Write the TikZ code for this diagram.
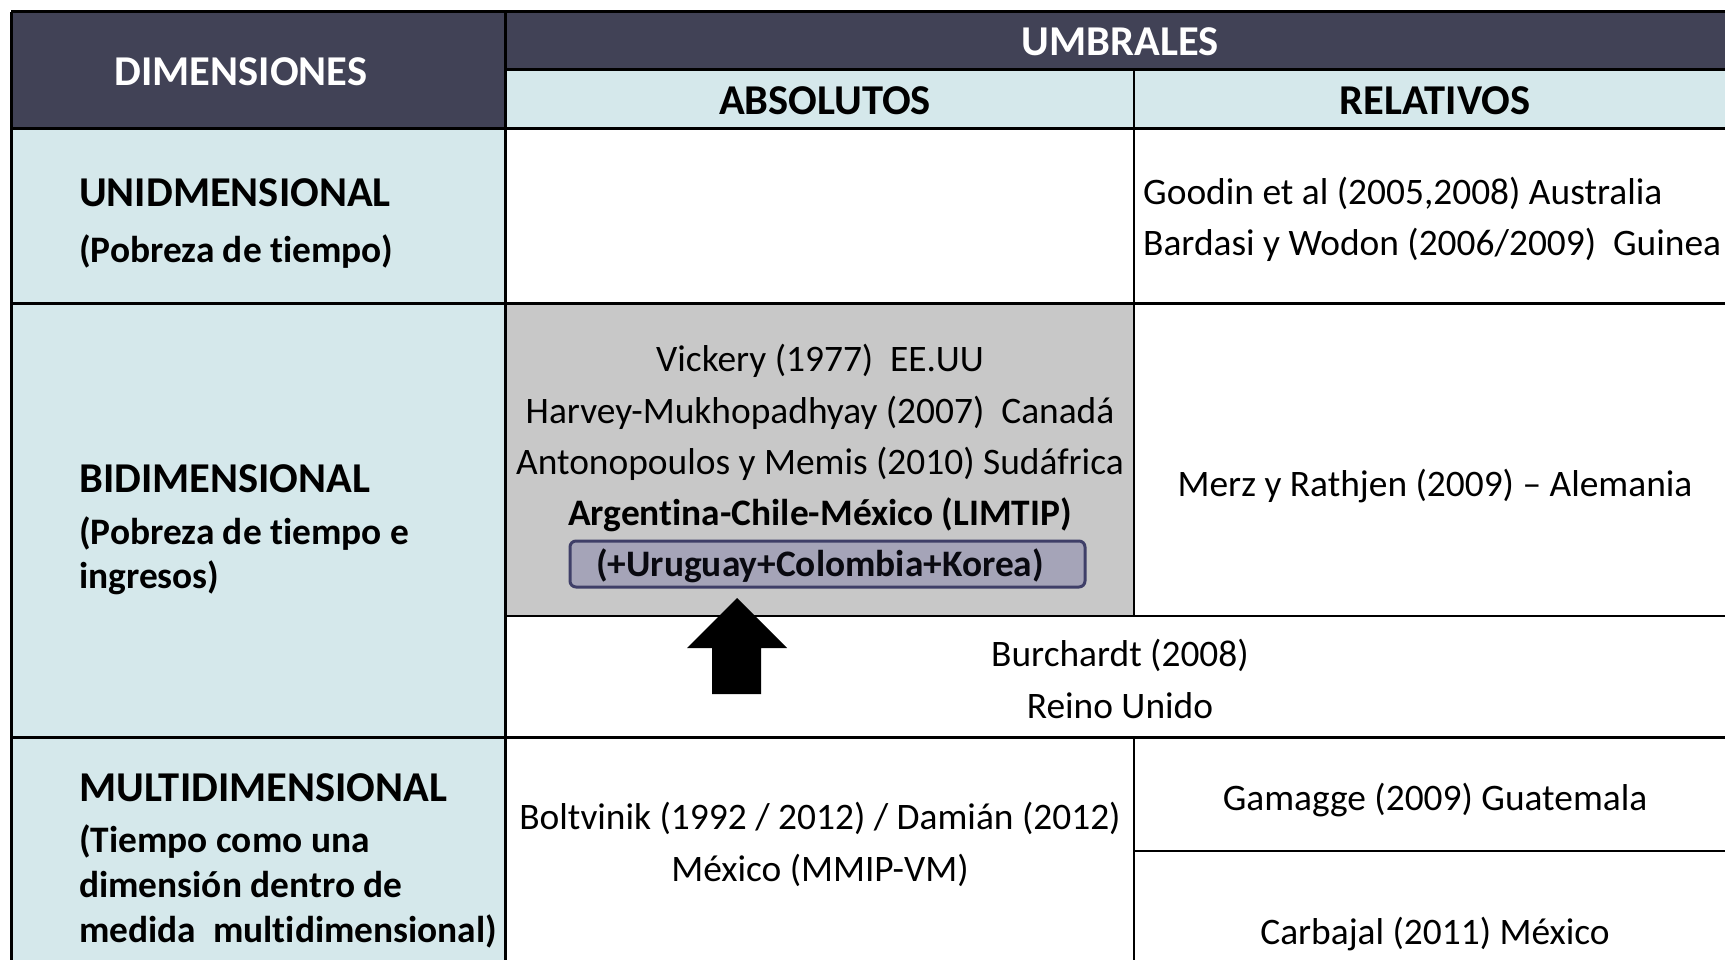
\documentclass[tikz,border=0pt]{standalone}
\usepackage{fontspec}
\setmainfont{Carlito}[Ligatures={NoCommon,NoContextual}]
\definecolor{hdr}{RGB}{65,66,86}
\definecolor{lite}{RGB}{213,232,235}
\definecolor{greycell}{RGB}{200,200,200}
\definecolor{boxfill}{RGB}{165,164,184}
\definecolor{boxline}{RGB}{63,63,104}
\begin{document}
\begin{tikzpicture}[x=1pt,y=-1pt,
  body/.style={font=\fontsize{37.4}{44}\selectfont, inner sep=0pt, anchor=base},
  bodyw/.style={font=\fontsize{37.4}{44}\selectfont, inner sep=0pt, anchor=base west},
  bodyb/.style={font=\fontsize{37.4}{44}\selectfont\bfseries, inner sep=0pt, anchor=base},
  hd/.style={font=\fontsize{42.5}{50}\selectfont\bfseries, inner sep=0pt, anchor=base},
  ttl/.style={font=\fontsize{42.5}{50}\selectfont\bfseries, inner sep=0pt, anchor=base west},
  sub/.style={font=\fontsize{37.4}{44}\selectfont\bfseries, inner sep=0pt, anchor=base west},
  major/.style={line width=3pt},
  minor/.style={line width=2.2pt}]
\useasboundingbox (0,0) rectangle (1725,960);
\begin{scope}
\clip (0,0) rectangle (1725,960);
\fill[white] (0,0) rectangle (1725,960);
% fills
\fill[hdr] (11,12) rectangle (1740,70);
\fill[hdr] (11,12) rectangle (505,129);
\fill[lite] (505,70) rectangle (1740,129);
\fill[lite] (11,129) rectangle (505,975);
\fill[greycell] (505,303) rectangle (1134,616);
% lines
\draw[major] (11,12) -- (1740,12);
\draw[major] (11,12) -- (11,975);
\draw[major] (505,12) -- (505,975);
\draw[major] (505,70) -- (1740,70);
\draw[major] (11,129) -- (1740,129);
\draw[minor] (1134,70) -- (1134,616);
\draw[minor] (1134,737) -- (1134,975);
\draw[major] (11,303) -- (1740,303);
\draw[minor] (505,616) -- (1740,616);
\draw[major] (11,737) -- (1740,737);
\draw[minor] (1134,851) -- (1740,851);
% header texts
\node[hd, text=white] (dim) at (241,86) {DIMENSIONES};
\node[hd, text=white] (umb) at (1120,56) {UMBRALES};
\node[hd] (abs) at (825,115) {ABSOLUTOS};
\node[hd] (rel) at (1435,115) {RELATIVOS};
% row labels
\node[ttl] (uni) at (79,207) {UNIDMENSIONAL};
\node[sub] (unis) at (79,262) {(Pobreza de tiempo)};
\node[ttl] (bi) at (79,492) {BIDIMENSIONAL};
\node[sub] (bis1) at (79,544) {(Pobreza de tiempo e};
\node[sub] (bis2) at (79,588) {ingresos)};
\node[ttl] (multi) at (79,801) {MULTIDIMENSIONAL};
\node[sub] (multis1) at (79,852) {(Tiempo como una};
\node[sub] (multis2) at (79,897) {dimensión dentro de};
\node[sub] (multis3) at (79,942) {medida\ \ multidimensional)};
% unidimensional row
\node[bodyw] (goodin) at (1143,205) {Goodin et al (2005,2008) Australia};
\node[bodyw] (bardasi) at (1143,256) {Bardasi y Wodon (2006/2009)\ \ Guinea};
% bidimensional row
\node[body] (vick) at (820,371) {Vickery (1977)\ \ EE.UU};
\node[body] (harv) at (820,423) {Harvey-Mukhopadhyay (2007)\ \ Canadá};
\node[body] (anto) at (820,474) {Antonopoulos y Memis (2010) Sudáfrica};
\node[bodyb] (arg) at (820,525) {Argentina-Chile-México (LIMTIP)};
\draw[boxline, fill=boxfill, line width=3pt, rounded corners=6pt] (570,541) rectangle (1085,587);
\node[bodyb, text=black!85!boxline] (urug) at (820,576) {(+Uruguay+Colombia+Korea)};
\node[body] (merz) at (1435,496) {Merz y Rathjen (2009) -- Alemania};
\node[body] (burch) at (1120,666) {Burchardt (2008)};
\node[body] (reino) at (1120,718) {Reino Unido};
\fill[black] (737,598) -- (787,648) -- (761,648) -- (761,694) -- (712,694) -- (712,648) -- (687,648) -- cycle;
% multidimensional row
\node[body] (bolt) at (820,829) {Boltvinik (1992 / 2012) / Damián (2012)};
\node[body] (mex) at (820,881) {México (MMIP-VM)};
\node[body] (gam) at (1435,810) {Gamagge (2009) Guatemala};
\node[body] (carb) at (1435,944) {Carbajal (2011) México};
\end{scope}
\end{tikzpicture}
\end{document}
